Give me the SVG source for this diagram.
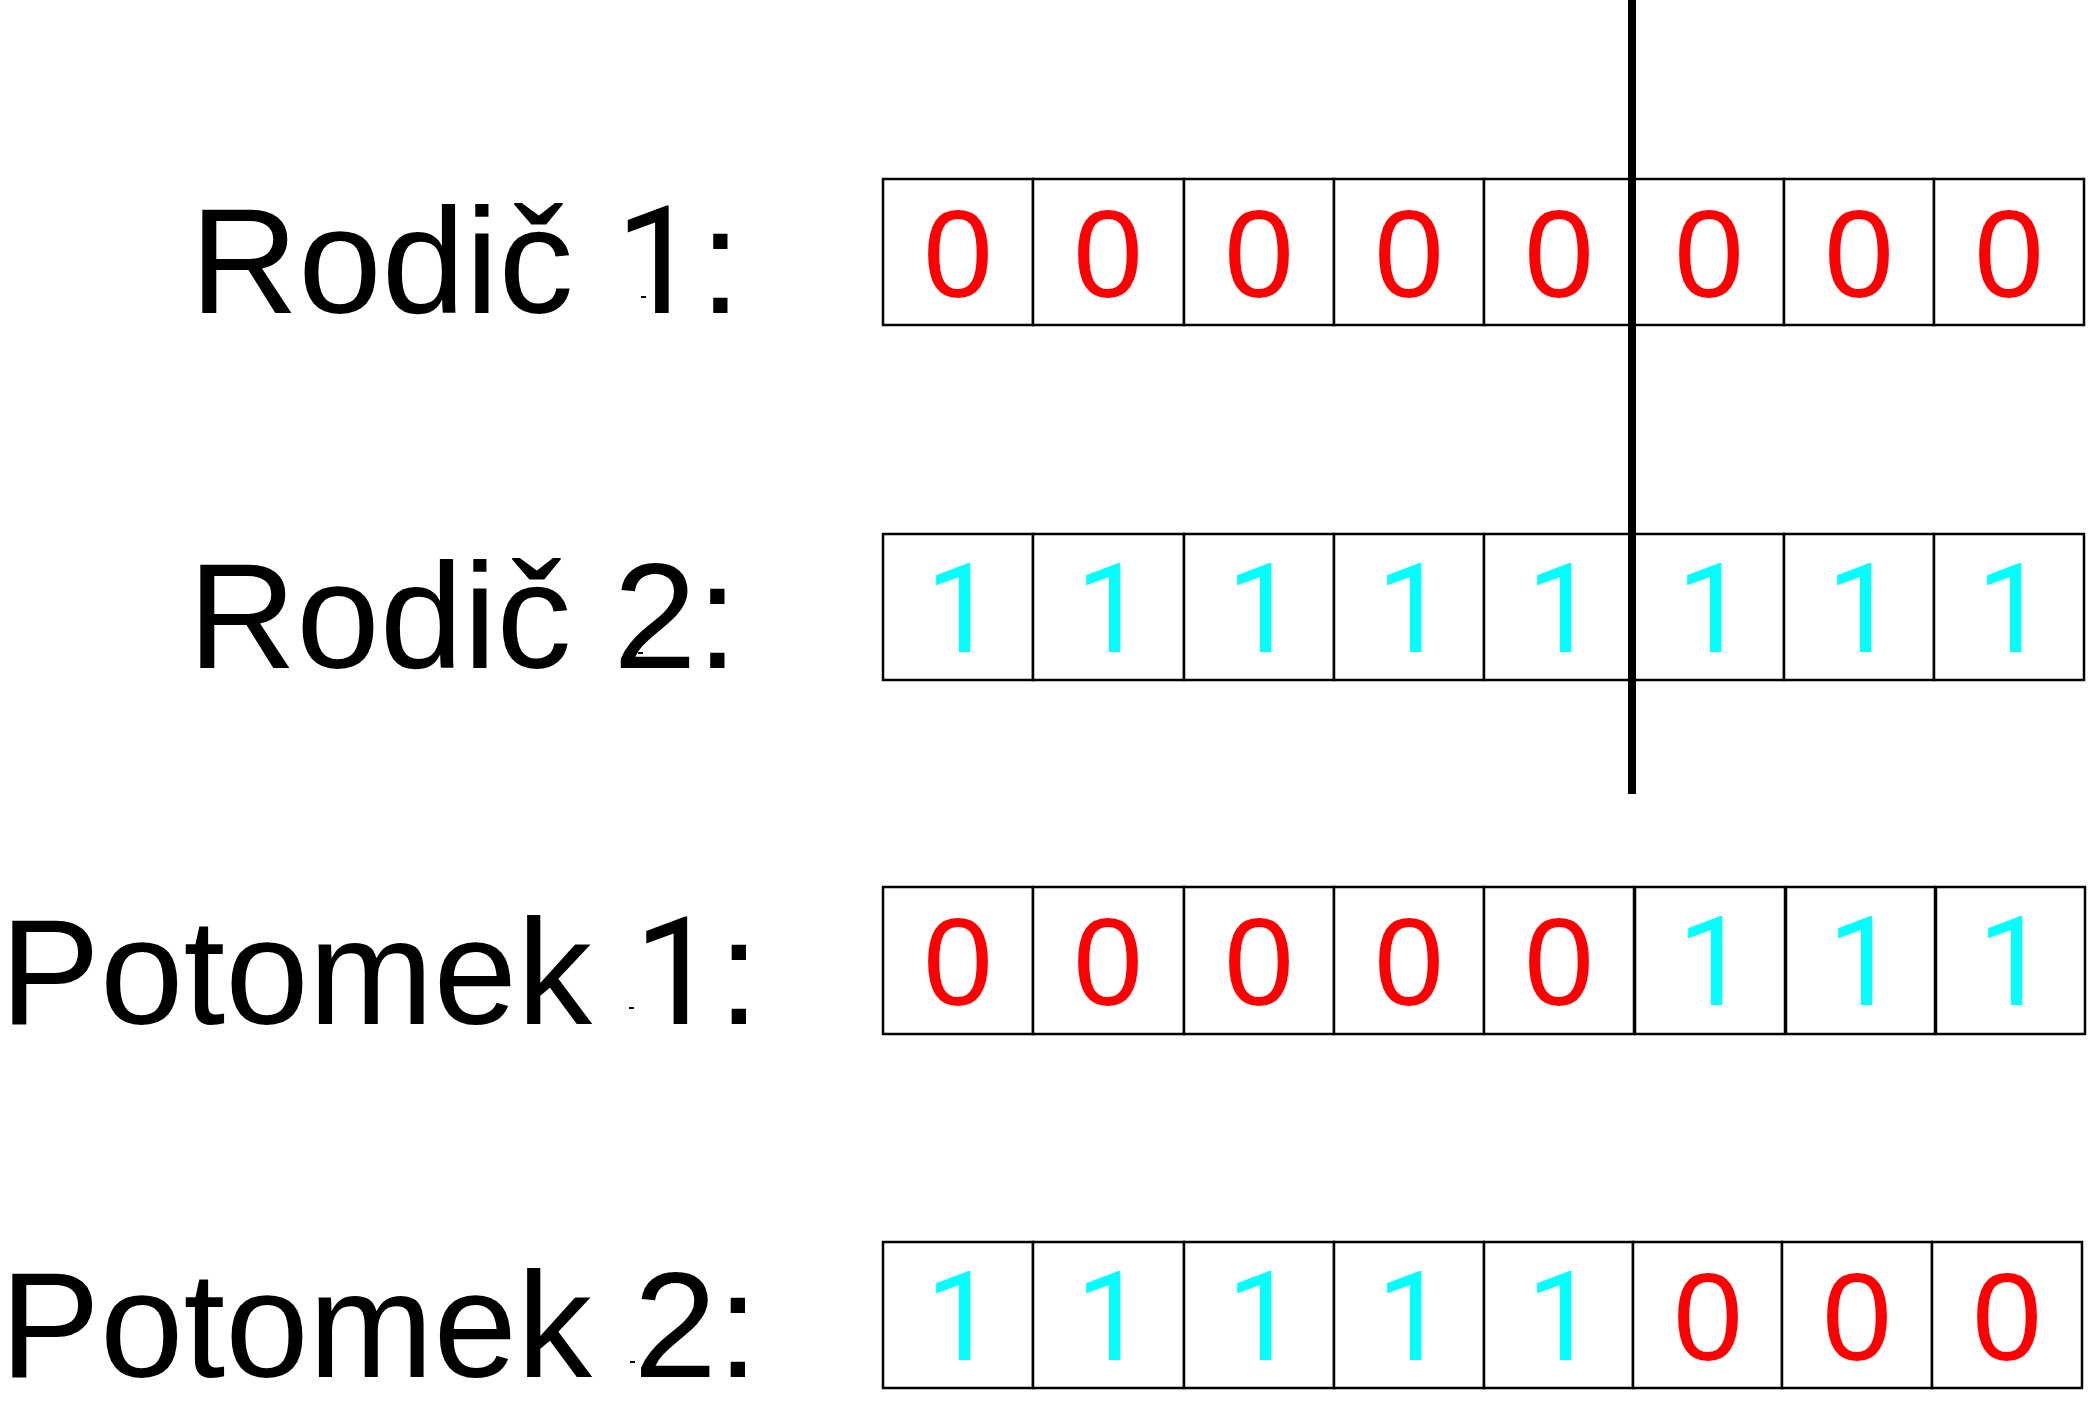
<svg xmlns="http://www.w3.org/2000/svg" width="2088" height="1414" viewBox="0 0 2088 1414">
<style>
.lbl{font-family:"Liberation Sans",Arial,sans-serif;font-size:150px;fill:#000}
.r{font-family:Roboto,"Liberation Sans",Arial,sans-serif}
.cell{fill:#fff;stroke:#000;stroke-width:2.5}
.d{font-family:"Liberation Sans",Arial,sans-serif;font-size:125px;text-anchor:middle}
.z{fill:#FF0000}
.o{fill:#00FFFF;font-family:Roboto,"Liberation Sans",Arial,sans-serif}
.dash{fill:#000}
</style>
<rect x="0" y="0" width="2088" height="1414" fill="#fff"/>

<g id="rodic1">
<text class="lbl" x="190" y="313">Rodič <tspan class="r">1</tspan>:</text>
<rect class="dash" x="641" y="296" width="5" height="2"/>
<rect class="cell" x="883" y="179" width="150" height="146"/>
<rect class="cell" x="1033" y="179" width="151" height="146"/>
<rect class="cell" x="1184" y="179" width="150" height="146"/>
<rect class="cell" x="1334" y="179" width="150" height="146"/>
<rect class="cell" x="1484" y="179" width="149" height="146"/>
<rect class="cell" x="1633" y="179" width="151" height="146"/>
<rect class="cell" x="1784" y="179" width="150" height="146"/>
<rect class="cell" x="1934" y="179" width="150" height="146"/>
<text class="d z" x="958" y="297">0</text>
<text class="d z" x="1108" y="297">0</text>
<text class="d z" x="1259" y="297">0</text>
<text class="d z" x="1409" y="297">0</text>
<text class="d z" x="1559" y="297">0</text>
<text class="d z" x="1709" y="297">0</text>
<text class="d z" x="1859" y="297">0</text>
<text class="d z" x="2009" y="297">0</text>
</g>

<g id="rodic2">
<text class="lbl" x="188" y="668">Rodič 2:</text>
<rect class="dash" x="638" y="652" width="5" height="2"/>
<rect class="cell" x="883" y="534" width="150" height="146"/>
<rect class="cell" x="1033" y="534" width="151" height="146"/>
<rect class="cell" x="1184" y="534" width="150" height="146"/>
<rect class="cell" x="1334" y="534" width="150" height="146"/>
<rect class="cell" x="1484" y="534" width="149" height="146"/>
<rect class="cell" x="1633" y="534" width="151" height="146"/>
<rect class="cell" x="1784" y="534" width="150" height="146"/>
<rect class="cell" x="1934" y="534" width="150" height="146"/>
<text class="d o" x="961" y="652">1</text>
<text class="d o" x="1111" y="652">1</text>
<text class="d o" x="1262" y="652">1</text>
<text class="d o" x="1412" y="652">1</text>
<text class="d o" x="1562" y="652">1</text>
<text class="d o" x="1712" y="652">1</text>
<text class="d o" x="1862" y="652">1</text>
<text class="d o" x="2012" y="652">1</text>
</g>

<g id="potomek1">
<text class="lbl" x="0" y="1024">Potomek <tspan class="r">1</tspan>:</text>
<rect class="dash" x="629" y="1007" width="5" height="2"/>
<rect class="cell" x="883" y="887" width="150" height="147"/>
<rect class="cell" x="1033" y="887" width="151" height="147"/>
<rect class="cell" x="1184" y="887" width="150" height="147"/>
<rect class="cell" x="1334" y="887" width="150" height="147"/>
<rect class="cell" x="1484" y="887" width="150" height="147"/>
<rect class="cell" x="1635" y="887" width="150" height="147"/>
<rect class="cell" x="1786" y="887" width="149" height="147"/>
<rect class="cell" x="1936" y="887" width="149" height="147"/>
<text class="d z" x="958" y="1005">0</text>
<text class="d z" x="1108" y="1005">0</text>
<text class="d z" x="1259" y="1005">0</text>
<text class="d z" x="1409" y="1005">0</text>
<text class="d z" x="1559" y="1005">0</text>
<text class="d o" x="1713" y="1005">1</text>
<text class="d o" x="1863" y="1005">1</text>
<text class="d o" x="2013" y="1005">1</text>
</g>

<g id="potomek2">
<text class="lbl" x="0" y="1377">Potomek 2:</text>
<rect class="dash" x="630" y="1361" width="5" height="2"/>
<rect class="cell" x="883" y="1242" width="150" height="146"/>
<rect class="cell" x="1033" y="1242" width="151" height="146"/>
<rect class="cell" x="1184" y="1242" width="150" height="146"/>
<rect class="cell" x="1334" y="1242" width="150" height="146"/>
<rect class="cell" x="1484" y="1242" width="149" height="146"/>
<rect class="cell" x="1633" y="1242" width="149" height="146"/>
<rect class="cell" x="1782" y="1242" width="150" height="146"/>
<rect class="cell" x="1932" y="1242" width="150" height="146"/>
<text class="d o" x="961" y="1360">1</text>
<text class="d o" x="1111" y="1360">1</text>
<text class="d o" x="1262" y="1360">1</text>
<text class="d o" x="1412" y="1360">1</text>
<text class="d o" x="1562" y="1360">1</text>
<text class="d z" x="1708" y="1360">0</text>
<text class="d z" x="1857" y="1360">0</text>
<text class="d z" x="2007" y="1360">0</text>
</g>

<g id="connectors">
<rect x="1628" y="0" width="8" height="794" fill="#000"/>
</g>
</svg>
